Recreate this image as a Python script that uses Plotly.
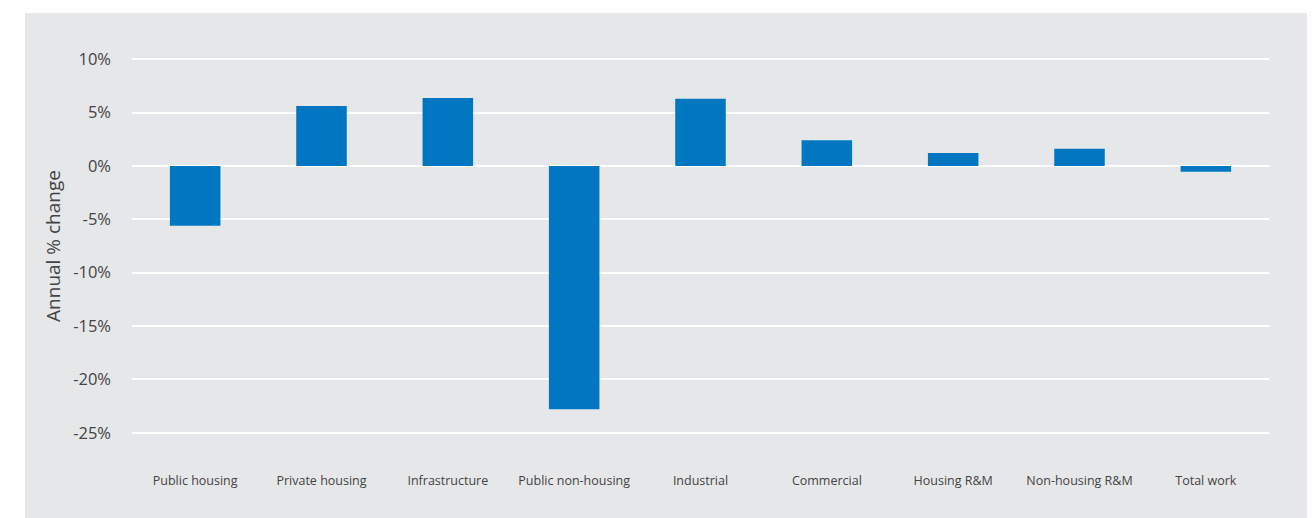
import plotly.graph_objects as go

categories = ["Public housing", "Private housing", "Infrastructure", "Public non-housing",
              "Industrial", "Commercial", "Housing R&M", "Non-housing R&M", "Total work"]
values = [-5.6, 5.6, 6.35, -22.8, 6.3, 2.4, 1.2, 1.6, -0.55]
tick_vals = [10, 5, 0, -5, -10, -15, -20, -25]
tick_text = ["10%", "5%", "0%", "-5%", "-10%", "-15%", "-20%", "-25%"]

GRAY = "#e6e7e9"
BLUE = "#0077c0"
FONT = "Open Sans, Lato, sans-serif"
OFF = 8  # default body margin of the html page

W, H = 1315 - OFF, 518 - OFF
L, R, T, B = 132 - OFF, 46, 57 - OFF, 83
pw, ph = W - L - R, H - T - B

fig = go.Figure(go.Bar(x=categories, y=values, marker=dict(color=BLUE, line=dict(width=0))))

fig.update_layout(
    width=W, height=H,
    margin=dict(l=L, r=R, t=T, b=B),
    paper_bgcolor="white", plot_bgcolor=GRAY,
    bargap=0.6, showlegend=False,
    font=dict(family=FONT, color="#444444"),
    shapes=[dict(type="rect", xref="paper", yref="paper",
                 x0=(25 - OFF - L) / pw, x1=(1311 - OFF - L) / pw,
                 y0=-0.4, y1=(H - B - (13 - OFF)) / ph,
                 fillcolor=GRAY, line=dict(width=0), layer="below")],
)
fig.update_xaxes(showgrid=False, showline=False, zeroline=False,
                 tickfont=dict(size=12.5, color="#444444"), ticklabelstandoff=36, ticks="")
fig.update_yaxes(range=[-25.2, 10.2], tickvals=tick_vals, ticktext=tick_text,
                 showgrid=True, gridcolor="white", gridwidth=2,
                 zeroline=True, zerolinecolor="white", zerolinewidth=2,
                 showline=False, ticks="", ticklabelstandoff=20,
                 tickfont=dict(size=16.5, color="#444444"),
                 title=dict(text="Annual % change", font=dict(size=19, color="#444444"), standoff=7))

fig.write_html("out.html")
